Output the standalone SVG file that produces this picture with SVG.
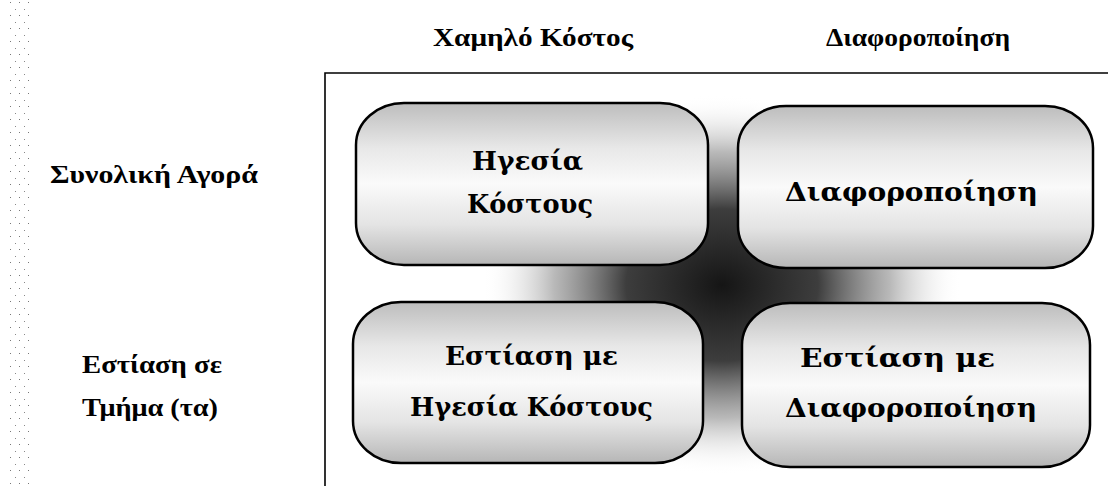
<svg xmlns="http://www.w3.org/2000/svg" width="1108" height="486" viewBox="0 0 1108 486">
  <defs>
    <linearGradient id="boxFill" x1="0" y1="0" x2="0" y2="1">
      <stop offset="0" stop-color="#bdbdbd"/>
      <stop offset="0.28" stop-color="#e8e8e8"/>
      <stop offset="0.5" stop-color="#fafafa"/>
      <stop offset="0.75" stop-color="#e4e4e4"/>
      <stop offset="1" stop-color="#b6b6b6"/>
    </linearGradient>
    <radialGradient id="shadow" cx="722" cy="285" r="200" gradientUnits="userSpaceOnUse" gradientTransform="translate(722 285) scale(1.2 0.95) translate(-722 -285)">
      <stop offset="0" stop-color="#151515" stop-opacity="1"/>
      <stop offset="0.4" stop-color="#333333" stop-opacity="0.95"/>
      <stop offset="0.7" stop-color="#8a8a8a" stop-opacity="0.6"/>
      <stop offset="1" stop-color="#ffffff" stop-opacity="0"/>
    </radialGradient>
    <pattern id="speckle" width="9" height="13" patternUnits="userSpaceOnUse">
      <rect x="1" y="2" width="1" height="1" fill="#777"/>
      <rect x="6" y="9" width="1" height="1" fill="#888"/>
    </pattern>
  </defs>
  <style>
    .box { fill: url(#boxFill); stroke: #000; stroke-width: 2.5; }
    .lbl { font-family: "DejaVu Serif", "Liberation Serif", serif; font-weight: bold; font-size: 26px; fill: #000; }
    .head { font-family: "Liberation Serif", "DejaVu Serif", serif; font-weight: bold; font-size: 26px; fill: #000; }
    .frame { fill: none; stroke: #000; stroke-width: 1.6; }
  </style>
  <rect width="1108" height="486" fill="#fff"/>
  <rect x="9" y="0" width="24" height="486" fill="url(#speckle)"/>

  <g id="headers">
    <text class="head" x="433" y="46" textLength="200" lengthAdjust="spacingAndGlyphs">Χαμηλό Κόστος</text>
    <text class="head" x="826" y="46" textLength="184" lengthAdjust="spacingAndGlyphs">Διαφοροποίηση</text>
  </g>
  <g id="row-labels">
    <text class="head" x="50" y="183" textLength="208" lengthAdjust="spacingAndGlyphs">Συνολική Αγορά</text>
    <text class="head" x="82" y="373" textLength="140" lengthAdjust="spacingAndGlyphs">Εστίαση σε</text>
    <text class="head" x="82" y="416" textLength="136" lengthAdjust="spacingAndGlyphs">Τμήμα (τα)</text>
  </g>

  <path class="frame" d="M325 486 L325 73 L1108 73"/>

  <ellipse cx="722" cy="285" rx="250" ry="200" fill="url(#shadow)"/>

  <g id="connectors"></g>

  <g id="node-cost-leadership">
    <rect class="box" x="356" y="103" width="352" height="162" rx="48" ry="42"/>
    <text class="lbl" x="472" y="170" textLength="111" lengthAdjust="spacingAndGlyphs">Ηγεσία</text>
    <text class="lbl" x="467" y="213" textLength="126" lengthAdjust="spacingAndGlyphs">Κόστους</text>
  </g>
  <g id="node-differentiation">
    <rect class="box" x="738" y="106" width="355" height="162" rx="48" ry="42"/>
    <text class="lbl" x="785" y="201" textLength="253" lengthAdjust="spacingAndGlyphs">Διαφοροποίηση</text>
  </g>
  <g id="node-focus-cost">
    <rect class="box" x="353" y="302" width="350" height="161" rx="48" ry="42"/>
    <text class="lbl" x="445" y="365" textLength="173" lengthAdjust="spacingAndGlyphs">Εστίαση με</text>
    <text class="lbl" x="410" y="416" textLength="243" lengthAdjust="spacingAndGlyphs">Ηγεσία Κόστους</text>
  </g>
  <g id="node-focus-diff">
    <rect class="box" x="742" y="303" width="348" height="164" rx="48" ry="42"/>
    <text class="lbl" x="800" y="367" textLength="195" lengthAdjust="spacingAndGlyphs">Εστίαση με</text>
    <text class="lbl" x="785" y="417" textLength="252" lengthAdjust="spacingAndGlyphs">Διαφοροποίηση</text>
  </g>
</svg>
